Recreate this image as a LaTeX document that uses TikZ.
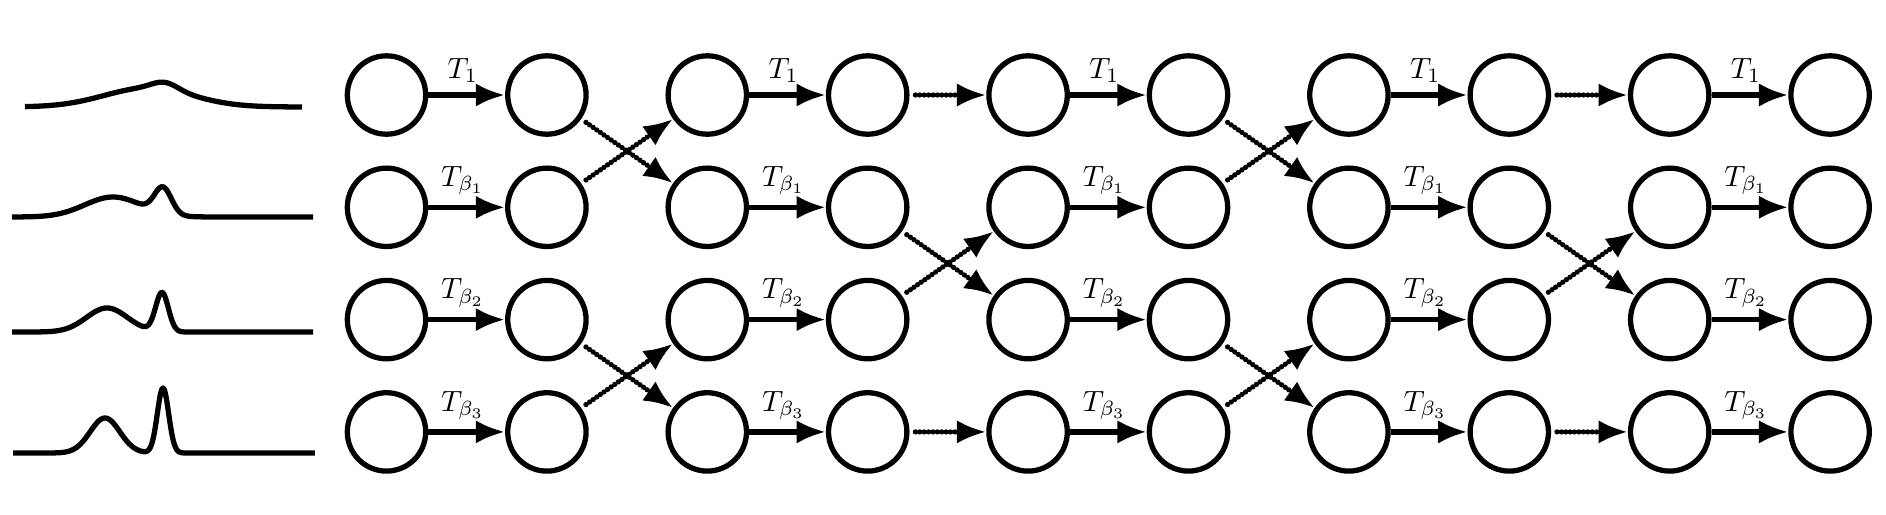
\documentclass[tikz,border=0pt]{standalone}
\usepackage{amsmath,amsfonts,amssymb}
\usetikzlibrary{arrows.meta}
\tikzset{
	state/.style={circle,draw,line width=1.8pt,minimum size=0.94cm,inner sep=0pt},
	move/.style={line width=1.8pt,-{Latex[length=10pt,width=8pt]}},
	swap/.style={move,line cap=round,dash pattern=on 0pt off 1.5pt,shorten <=2pt},
	wave/.style={line width=1.8pt,line join=round,samples=301}
}
\begin{document}
\begin{tikzpicture}[x=0.01199cm,y=-0.01199cm,
		declare function={g(\t,\m,\s)=exp(-min(pow((\t-\m)/\s,2),20));}]
		\useasboundingbox (0,0) rectangle (1886,514);
		\draw[wave] plot[domain=25:302] (\x,{107-19*g(\x,148,62)-7*g(\x,165,18)});
		\draw[wave] plot[domain=12:313] (\x,{217-20*g(\x,113,40)-26*g(\x,163,12)});
		\draw[wave] plot[domain=12:313] (\x,{332-24*g(\x,107,29)-39*g(\x,162,9)});
		\draw[wave] plot[domain=13:315] (\x,{453-35*g(\x,105,21)-65*g(\x,163,8)});
		\foreach \i in {1,...,10}
			\foreach \j in {1,...,4}
				\node[state] (n-\i-\j) at ({386.5+160.4*(\i-1)},{95+112.3*(\j-1)}) {};
		\foreach \i in {1,3,5,7,9}
			\foreach \j/\lab in {1/T_1,2/T_{\beta_1},3/T_{\beta_2},4/T_{\beta_3}} {
				\pgfmathtruncatemacro\k{\i+1}
				\draw[move] (n-\i-\j) -- node[above,pos=0.45] {$\lab$} (n-\k-\j);
			}
		\foreach \i in {2,6} {
			\pgfmathtruncatemacro\k{\i+1}
			\draw[swap] (n-\i-1) -- (n-\k-2);
			\draw[swap] (n-\i-2) -- (n-\k-1);
			\draw[swap] (n-\i-3) -- (n-\k-4);
			\draw[swap] (n-\i-4) -- (n-\k-3);
		}
		\foreach \i in {4,8} {
			\pgfmathtruncatemacro\k{\i+1}
			\draw[swap] (n-\i-1) -- (n-\k-1);
			\draw[swap] (n-\i-2) -- (n-\k-3);
			\draw[swap] (n-\i-3) -- (n-\k-2);
			\draw[swap] (n-\i-4) -- (n-\k-4);
		}
	\end{tikzpicture}
\end{document}
